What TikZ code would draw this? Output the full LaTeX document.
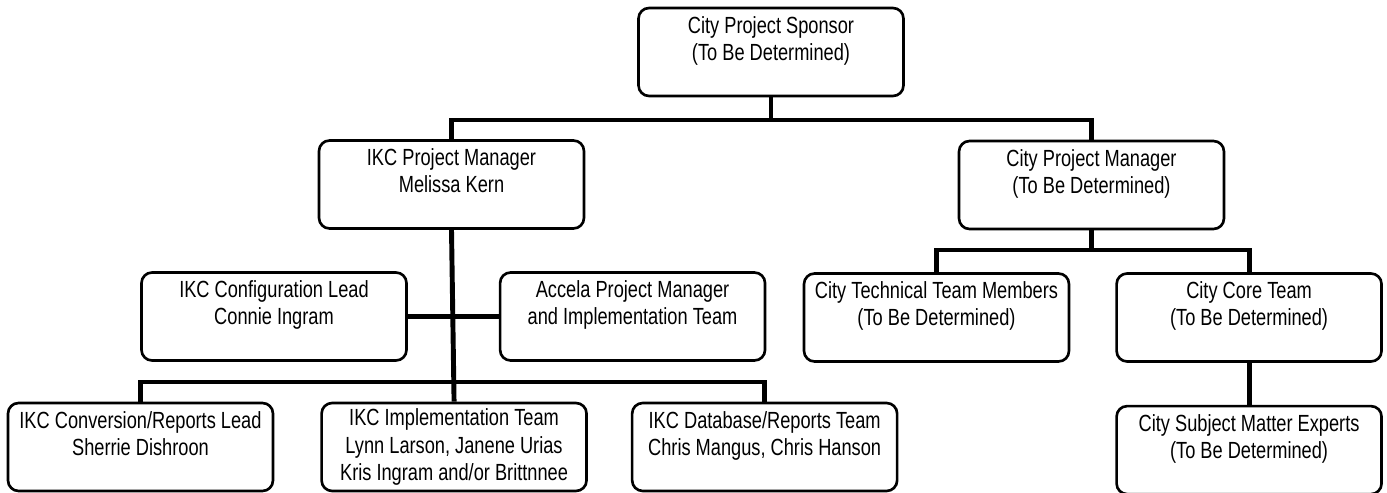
\documentclass[tikz,border=0pt]{standalone}
\usepackage{fontspec}
\setmainfont{Liberation Sans}[FakeStretch=0.78]
\usepackage{tikz}
\usetikzlibrary{positioning}
\tikzset{
	orgbox/.style ={rectangle, rounded corners=6pt, draw=black, line width=1.5pt, minimum width=5.3cm, minimum height=1.76cm, inner sep=2pt, align=center, font=\fontsize{13.3pt}{15.6pt}\selectfont},
	% connector styles
	orgline/.style={line width=2.8pt},
}

\begin{document}
\begin{tikzpicture}[x=0.02cm, y=-0.02cm]
			\useasboundingbox (0,0) rectangle (1387,493);
			\node[orgbox] (sponsor) at (771,52) {City Project Sponsor\\ (To Be Determined)\\ ~};
			\node[orgbox] (ikcpm) at (451.5,184.5) {IKC Project Manager\\ Melissa Kern\\ ~};
			\node[orgbox] (citypm) at (1091.5,185) {City Project Manager\\ (To Be Determined)\\ ~};
			\node[orgbox] (config) at (274,316.5) {IKC Configuration Lead\\ Connie Ingram\\ ~};
			\node[orgbox, right=1.82cm of config] (accela) {Accela Project Manager\\ and Implementation Team\\ ~};
			\node[orgbox] (citytech) at (936.5,317.5) {City Technical Team Members\\ (To Be Determined)\\ ~};
			\node[orgbox, right=0.9cm of citytech] (core) {City Core Team\\ (To Be Determined)\\ ~};
			\node[orgbox, below=0.84cm of core] (sme) {City Subject Matter Experts\\ (To Be Determined)\\ ~};
			\node[orgbox] (conv) at (140.5,447) {IKC Conversion/Reports Lead\\ Sherrie Dishroon\\ ~};
			\node[orgbox, right=0.92cm of conv] (impl) {IKC Implementation Team\\ Lynn Larson, Janene Urias\\ Kris Ingram and/or Brittnnee};
			\node[orgbox, right=0.86cm of impl] (db) {IKC Database/Reports Team\\ Chris Mangus, Chris Hanson\\ ~};
			\coordinate (bartop) at (sponsor.south |- 0,120);
			\coordinate (barcity) at (citypm.south |- 0,250);
			\coordinate (barikc) at (ikcpm.south |- 0,382);
			\draw[orgline] (sponsor.south) -- (bartop);
			\draw[orgline] (ikcpm.north) |- (bartop) -| (citypm.north);
			\draw[orgline] (citypm.south) -- (barcity);
			\draw[orgline] (citytech.north) |- (barcity) -| (core.north);
			\draw[orgline] (core.south) -- (sme.north);
			\draw[orgline] (ikcpm.south) -- (impl.north);
			\draw[orgline] (config.east) -- (accela.west);
			\draw[orgline] (conv.north) |- (barikc) -| (db.north);
		\end{tikzpicture}
\end{document}
